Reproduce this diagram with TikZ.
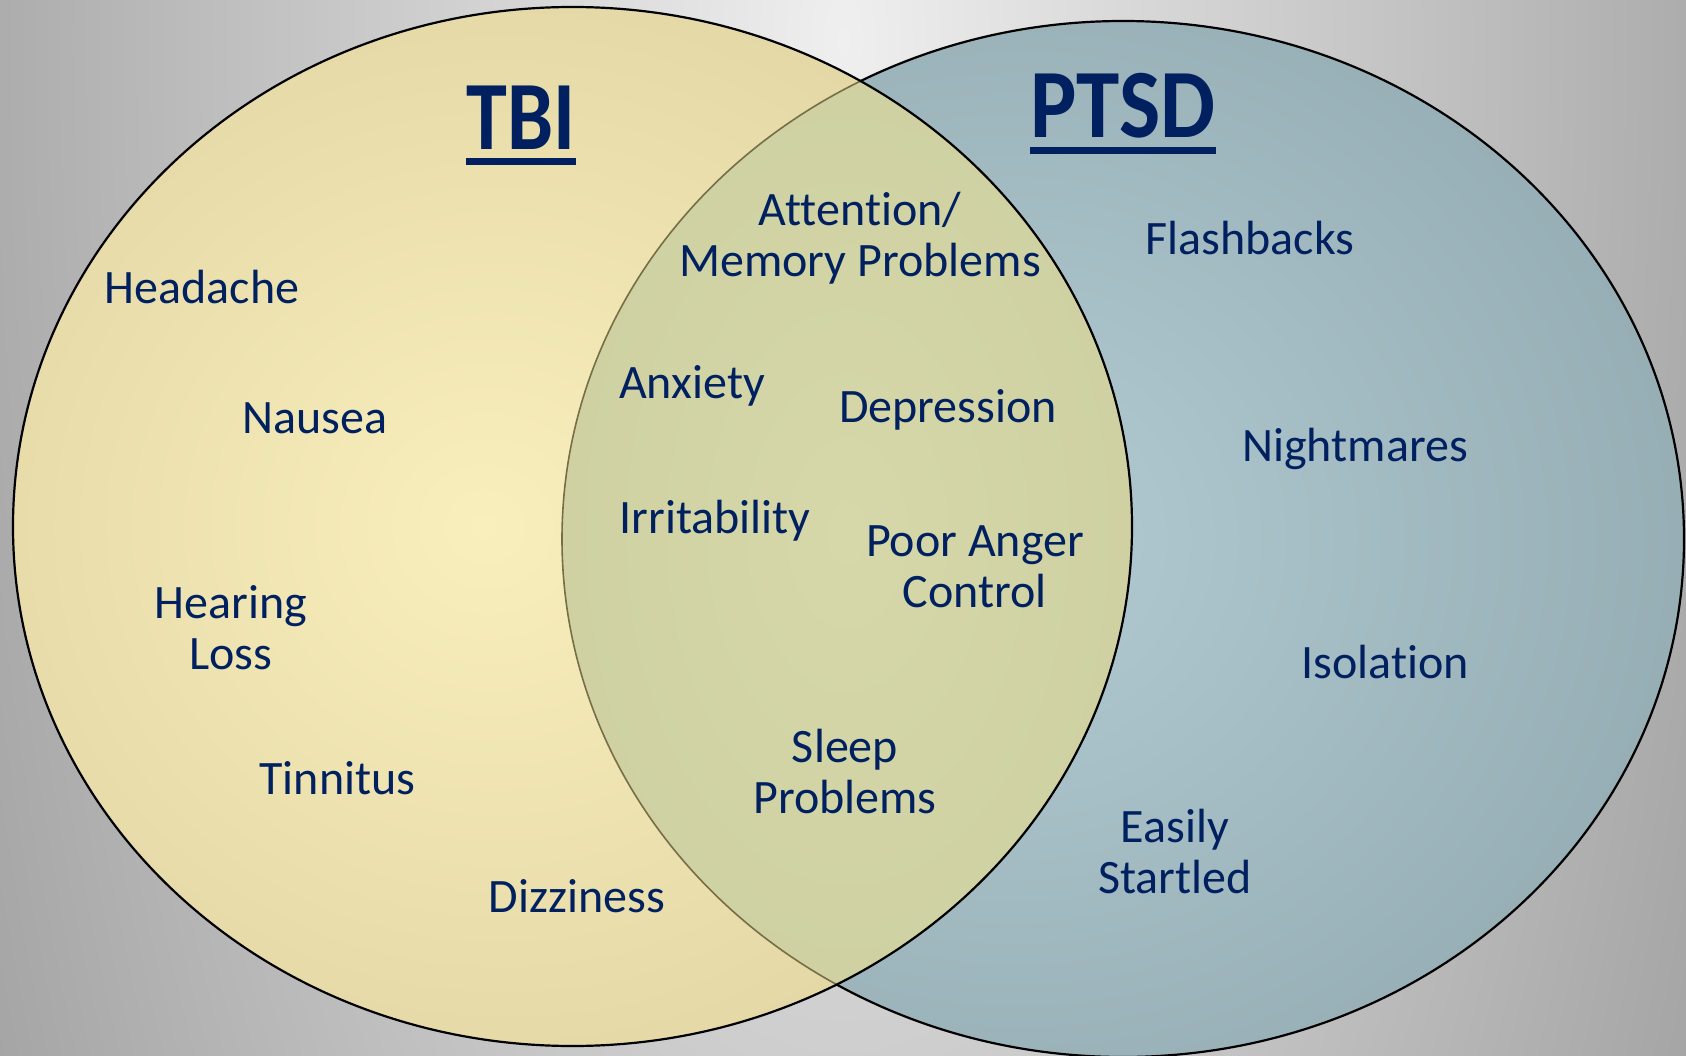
\documentclass[tikz,border=0pt]{standalone}
\usepackage{fontspec}
\setmainfont{Carlito}[Ligatures=NoCommon]
\usepackage{graphicx}
\definecolor{bgin}{HTML}{EFEFEF}
\definecolor{bgout}{HTML}{A2A2A2}
\definecolor{tbiin}{HTML}{F9EFBC}
\definecolor{tbiout}{HTML}{D3C796}
\definecolor{ptsdin}{HTML}{B3CBD2}
\definecolor{ptsdout}{HTML}{89A0A7}
\definecolor{ovin}{HTML}{D6D8A9}
\definecolor{ovout}{HTML}{C4C797}
\definecolor{txt}{HTML}{002060}
\definecolor{faded}{HTML}{776E47}
\pgfdeclareradialshading{bgShade}{\pgfpoint{0bp}{0bp}}{color(0bp)=(bgin); color(50bp)=(bgout); color(100bp)=(bgout)}
\pgfdeclareradialshading{tbiShade}{\pgfpoint{-4bp}{0bp}}{color(0bp)=(tbiin); color(46bp)=(tbiout); color(100bp)=(tbiout)}
\pgfdeclareradialshading{ptsdShade}{\pgfpoint{-6bp}{0bp}}{color(0bp)=(ptsdin); color(43bp)=(ptsdout); color(100bp)=(ptsdout)}
\pgfdeclareradialshading{ovShade}{\pgfpoint{0bp}{0bp}}{color(0bp)=(ovin); color(60bp)=(ovout); color(100bp)=(ovout)}
\tikzset{
  outline/.style={draw=black, line width=2.2pt},
  lbl/.style={text=txt, font=\fontsize{48}{51}\selectfont, align=center, inner sep=0pt, anchor=base},
  ttl/.style={text=txt, font=\bfseries\fontsize{98}{100}\selectfont, inner sep=0pt, anchor=base},
}
\begin{document}
\begin{tikzpicture}[x=1pt,y=-1pt]
\useasboundingbox (0,0) rectangle (1686,1056);
% background
\begin{scope}
\clip (0,0) rectangle (1686,1056);
\pgftransformshift{\pgfpoint{843pt}{-40pt}}
\pgftransformxscale{19.53}
\pgftransformyscale{47.82}
\pgflowlevelsynccm
\pgfuseshading{bgShade}
\end{scope}
% PTSD
\shade[shading=ptsdShade] (1123,539) ellipse [x radius=561pt, y radius=518pt];
\draw[outline] (1123,539) ellipse [x radius=561pt, y radius=518pt];
% TBI
\shade[shading=tbiShade] (572.5,526.5) ellipse [x radius=559.5pt, y radius=519.5pt];
% overlap
\begin{scope}
\clip (572.5,526.5) ellipse [x radius=559.5pt, y radius=519.5pt];
\begin{scope}
\clip (1123,539) ellipse [x radius=561pt, y radius=518pt];
\shade[shading=ovShade] (562,81) rectangle (1132,985);
\end{scope}
\draw[faded, line width=1.6pt] (1123,539) ellipse [x radius=561pt, y radius=518pt];
\end{scope}
\draw[outline] (572.5,526.5) ellipse [x radius=559.5pt, y radius=519.5pt];
% titles
\node[ttl] (tbi) at (521,150) {\scalebox{0.84}[1]{TBI}};
\fill[txt] ([yshift=-8pt]tbi.base west) rectangle ([yshift=-15pt]tbi.base east);
\node[ttl] (ptsd) at (1123,138) {\scalebox{0.89}[1]{PTSD}};
\fill[txt] ([yshift=-9pt]ptsd.base west) rectangle ([yshift=-16pt]ptsd.base east);
% TBI only
\node[lbl] (headache) at (202,304) {Headache};
\node[lbl] (nausea) at (315,433) {Nausea};
\node[lbl] (hearing) at (231,669) {Hearing\\Loss};
\node[lbl] (tinnitus) at (337.5,794) {Tinnitus};
\node[lbl] (dizziness) at (577,912) {Dizziness};
% both
\node[lbl] (attention) at (860,277) {Attention/\\Memory Problems};
\node[lbl] (anxiety) at (692,399) {Anxiety};
\node[lbl] (depression) at (948,422) {Depression};
\node[lbl] (irritability) at (715,533) {Irritability};
\node[lbl] (anger) at (975,607) {Poor Anger\\Control};
\node[lbl] (sleep) at (845,813) {Sleep\\Problems};
% PTSD only
\node[lbl] (flashbacks) at (1250,255) {Flashbacks};
\node[lbl] (nightmares) at (1355,461) {Nightmares};
\node[lbl] (isolation) at (1385,678) {Isolation};
\node[lbl] (startled) at (1175,893) {Easily\\Startled};
\end{tikzpicture}
\end{document}
